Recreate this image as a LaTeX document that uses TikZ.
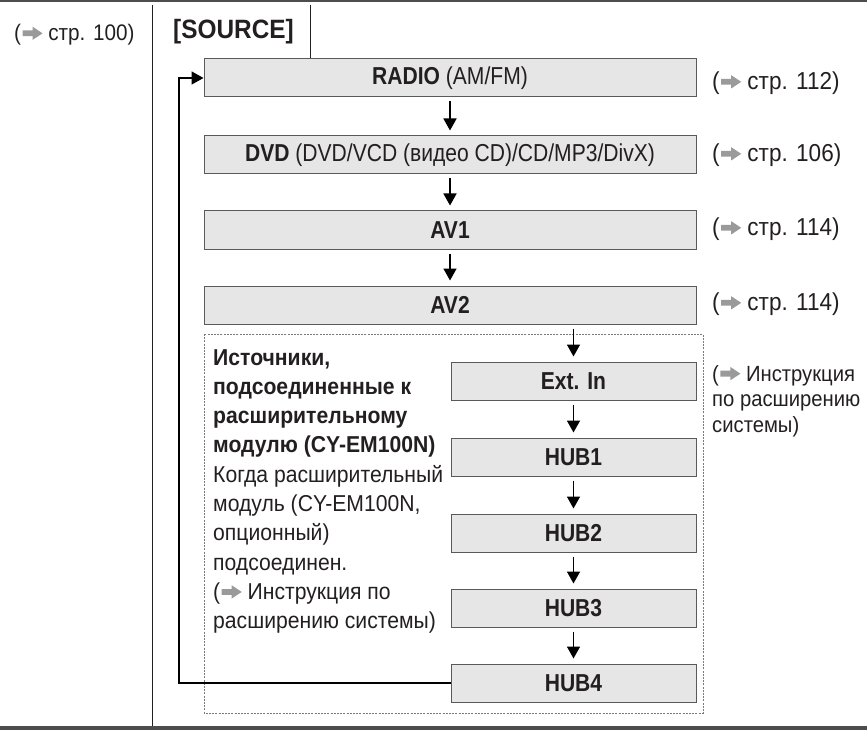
\documentclass[tikz,border=0pt]{standalone}
\usepackage{fontspec}
\setmainfont{Liberation Sans}[FakeStretch=0.92]
\newfontfamily\boxfont{Liberation Sans}[FakeStretch=0.86]
\usetikzlibrary{arrows.meta}
\definecolor{txt}{HTML}{231F20}
\definecolor{boxfill}{HTML}{E6E6E6}
\definecolor{boxline}{HTML}{5A5A5A}
\definecolor{arrgray}{HTML}{9A9A9A}
\definecolor{rulecol}{HTML}{4D4D4D}
\definecolor{dashcol}{HTML}{7A7A7A}
\newcommand\myarr{\kern1.5pt\begin{tikzpicture}[baseline=-7.5pt]
  \fill[arrgray] (0pt,-2.9pt) -- (10pt,-2.9pt) -- (10pt,-6.6pt) -- (20pt,0pt) -- (10pt,6.6pt) -- (10pt,2.9pt) -- (0pt,2.9pt) -- cycle;
  \end{tikzpicture}}
\newcommand\fs[2]{\fontsize{#1}{#2}\selectfont}
\begin{document}
\begin{tikzpicture}[x=1pt,y=-1pt,
  srcbox/.style={draw=boxline, line width=1pt, fill=boxfill, inner sep=0pt,
    text=txt, font=\boxfont\fs{24.5}{28}, minimum height=38pt},
  wide/.style={minimum width=492pt},
  narrow/.style={minimum width=245pt},
  flow/.style={line width=1.6pt, draw=black, -{Triangle[width=13pt,length=12pt]},
    shorten >=5pt, shorten <=4pt},
  lbl/.style={anchor=west, inner sep=0pt, text=txt, font=\fs{24.5}{28}},
]
\useasboundingbox (0,0) rectangle (867,730);
% rules
\fill[rulecol] (0,0) rectangle (867,2.5);
\fill[rulecol] (0,726) rectangle (867,730);
\draw[txt, line width=1pt] (152,5) -- (152,726);
\draw[txt, line width=1pt] (310,5) -- (310,59);
% header
\node[lbl, font=\fs{22.5}{27}] (p100) at (14,35) {(\myarr\ стр. 100)};
\node[lbl, font=\bfseries\fs{26.5}{30}] (title) at (173,32) {[SOURCE]};
% dashed group
\draw[dashcol, line width=0.8pt, dash pattern=on 2pt off 1.2pt] (204,334) rectangle (703,713);
% boxes
\node[srcbox, wide] (radio) at (450,78) {\textbf{RADIO} (AM/FM)};
\node[srcbox, wide] (dvd) at (450,155) {\textbf{DVD} (DVD/VCD (видео CD)/CD/MP3/DivX)};
\node[srcbox, wide] (av1) at (450,230) {\textbf{AV1}};
\node[srcbox, wide] (av2) at (450,305) {\textbf{AV2}};
\node[srcbox, narrow] (ext) at (573.5,381) {\textbf{Ext. In}};
\node[srcbox, narrow] (hub1) at (573.5,457) {\textbf{HUB1}};
\node[srcbox, narrow] (hub2) at (573.5,533) {\textbf{HUB2}};
\node[srcbox, narrow] (hub3) at (573.5,608) {\textbf{HUB3}};
\node[srcbox, narrow] (hub4) at (573.5,683) {\textbf{HUB4}};
% page labels
\node[lbl] (p112) at (712,83) {(\myarr\ стр. 112)};
\node[lbl] (p106) at (712,155) {(\myarr\ стр. 106)};
\node[lbl] (p114a) at (712,229) {(\myarr\ стр. 114)};
\node[lbl] (p114b) at (712,304) {(\myarr\ стр. 114)};
\node[anchor=north west, inner sep=0pt, align=left, text=txt, font=\fs{22}{25.5}] (extref) at (712,365)
  {(\myarr\ Инструкция\\по расширению\\системы)};
\node[anchor=north west, inner sep=0pt, align=left, text=txt, font=\fs{23}{29.3}] (exttxt) at (213,349)
  {\textbf{Источники,}\\\textbf{подсоединенные к}\\\textbf{расширительному}\\\textbf{модулю (CY-EM100N)}\\
   Когда расширительный\\модуль (CY-EM100N,\\опционный)\\подсоединен.\\(\myarr\ Инструкция по\\расширению системы)};
% connectors
\draw[flow] (radio) -- (dvd);
\draw[flow] (dvd) -- (av1);
\draw[flow] (av1) -- (av2);
\draw[flow] (ext.north |- av2.south) -- (ext.north);
\draw[flow] (ext) -- (hub1);
\draw[flow] (hub1) -- (hub2);
\draw[flow] (hub2) -- (hub3);
\draw[flow] (hub3) -- (hub4);
\coordinate (loop) at (179,683);
\draw[line width=1.6pt, -{Triangle[width=13pt,length=12pt]}] (hub4.west) -- (loop) |- (radio.west);
\end{tikzpicture}
\end{document}
